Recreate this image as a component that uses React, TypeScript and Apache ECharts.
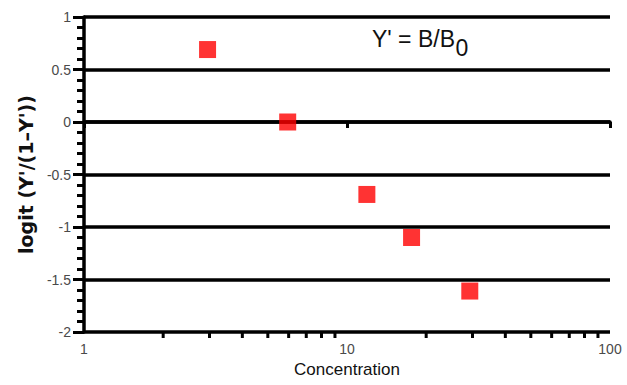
import React, { useEffect, useRef } from "react";
import * as echarts from "echarts";

const concentrations = [2.95, 5.95, 11.9, 17.6, 29.3];
const logitValues = [0.69, 0.0, -0.69, -1.1, -1.61];
const xMinorTicks = [2, 3, 4, 5, 6, 7, 8, 9, 20, 30, 40, 50, 60, 70, 80, 90];
const yMin = -2;
const yMax = 1;
const yStep = 0.5;
const xTitle = "Concentration";
const yTitle = "logit (Y'/(1–Y'))";
const formulaMain = "Y' = B/B";
const formulaSub = "0";

export default function App() {
  const ref = useRef<HTMLDivElement>(null);
  useEffect(() => {
    if (!ref.current) return;
    const chart = echarts.init(ref.current, null, { renderer: "svg" });
    const labelFont = "'Liberation Sans', Arial, Helvetica, sans-serif";
    const formulaSize = 23;
    let mainWidth = 82;
    try {
      const ctx = document.createElement("canvas").getContext("2d");
      if (ctx) {
        ctx.font = formulaSize + "px " + labelFont;
        mainWidth = ctx.measureText(formulaMain).width;
      }
    } catch (e) {}
    const formulaX = 372;
    chart.setOption({
      animation: false,
      backgroundColor: "#ffffff",
      grid: { left: 84, right: 17, top: 17, bottom: 53, containLabel: false },
      xAxis: {
        type: "log",
        logBase: 10,
        min: 1,
        max: 100,
        name: xTitle,
        nameLocation: "middle",
        nameGap: 27,
        nameTextStyle: { color: "#111", fontSize: 17, fontFamily: labelFont },
        axisLine: { lineStyle: { color: "#000", width: 3.5 } },
        axisTick: { show: true, inside: false, length: 6, lineStyle: { color: "#000", width: 3 } },
        minorTick: { show: false },
        splitLine: { show: false },
        axisLabel: { color: "#4a4a4a", fontSize: 14, margin: 10, fontFamily: labelFont },
      },
      yAxis: {
        type: "value",
        min: yMin,
        max: yMax,
        interval: yStep,
        name: yTitle,
        nameLocation: "middle",
        nameRotate: 90,
        nameGap: 46,
        nameTextStyle: {
          color: "#111",
          fontSize: 19,
          fontWeight: "bold",
          fontFamily: "'DejaVu Sans', sans-serif",
        },
        axisLine: { show: true, lineStyle: { color: "#000", width: 3.5 } },
        axisTick: { show: true, inside: false, length: 11, lineStyle: { color: "#000", width: 3 } },
        minorTick: { show: true, splitNumber: 5, length: 7, lineStyle: { color: "#000", width: 3 } },
        splitLine: { show: true, lineStyle: { color: "#000", width: 3.5 } },
        axisLabel: { color: "#4a4a4a", fontSize: 14, margin: 13, fontFamily: labelFont },
      },
      graphic: [
        {
          type: "text",
          x: formulaX,
          y: 39,
          style: {
            text: formulaMain,
            fontSize: formulaSize,
            fontFamily: labelFont,
            fill: "#111",
            verticalAlign: "middle",
            align: "left",
          },
        },
        {
          type: "text",
          x: formulaX + mainWidth + 0.5,
          y: 47.5,
          style: {
            text: formulaSub,
            fontSize: formulaSize,
            fontFamily: labelFont,
            fill: "#111",
            verticalAlign: "middle",
            align: "left",
          },
        },
      ],
      series: [
        {
          type: "custom",
          silent: true,
          clip: false,
          z: 1,
          data: xMinorTicks.map((v) => [v, yMin]),
          encode: { x: 0, y: 1 },
          renderItem: (params: any, api: any) => {
            const p = api.coord([api.value(0), api.value(1)]);
            return {
              type: "line",
              shape: { x1: p[0], y1: p[1], x2: p[0], y2: p[1] + 6 },
              style: { stroke: "#000", lineWidth: 3 },
            };
          },
        },
        {
          type: "scatter",
          symbol: "rect",
          symbolSize: 17,
          itemStyle: { color: "#ff0000" },
          z: 3,
          data: concentrations.map((c, i) => [c, logitValues[i]]),
        },
      ],
    });
    return () => chart.dispose();
  }, []);
  return (
    <div
      ref={ref}
      style={{ position: "fixed", left: 0, top: 0, width: 627, height: 385, background: "#fff" }}
    />
  );
}
